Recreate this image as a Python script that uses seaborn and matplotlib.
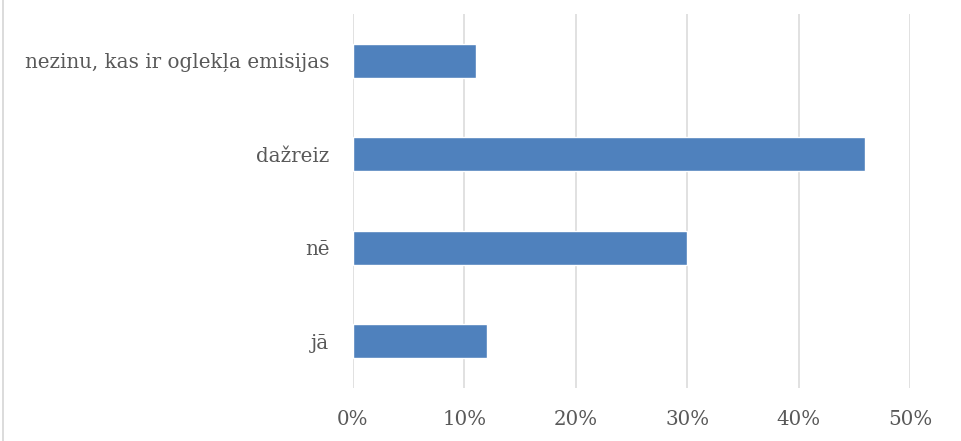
import matplotlib.pyplot as plt
import matplotlib.lines as mlines
import pandas as pd
import seaborn as sns

categories = ["nezinu, kas ir oglekļa emisijas", "dažreiz", "nē", "jā"]
values = [11, 46, 30, 12]
x_ticks = [0, 10, 20, 30, 40, 50]

df = pd.DataFrame({"atbilde": categories, "procenti": values})

sns.set_style("white")
plt.rcParams["font.family"] = ["DejaVu Serif"]

fig = plt.figure(figsize=(9.61, 4.41), dpi=100)
ax = fig.add_axes([353 / 961, 1 - 388 / 441, (910 - 353) / 961, (388 - 14) / 441])

sns.barplot(data=df, x="procenti", y="atbilde", orient="h", color="#4F81BD",
            width=0.36, saturation=1, ax=ax, zorder=3)

ax.set_xlim(0, 50)
ax.set_xticks(x_ticks)
ax.set_xticklabels([f"{t}%" for t in x_ticks])
ax.grid(axis="x", color="#D9D9D9", linewidth=1.1, zorder=0)
ax.set_axisbelow(True)
for s in ax.spines.values():
    s.set_visible(False)
ax.set_xlabel("")
ax.set_ylabel("")
ax.tick_params(axis="both", length=0, labelsize=14.3, colors="#595959")
ax.tick_params(axis="y", pad=17)
ax.tick_params(axis="x", pad=16)

# chart border on the left
fig.add_artist(mlines.Line2D([3 / 961, 3 / 961], [0, 1], color="#D9D9D9",
                             linewidth=1.3, transform=fig.transFigure))

fig.savefig("out.png", dpi=100)
